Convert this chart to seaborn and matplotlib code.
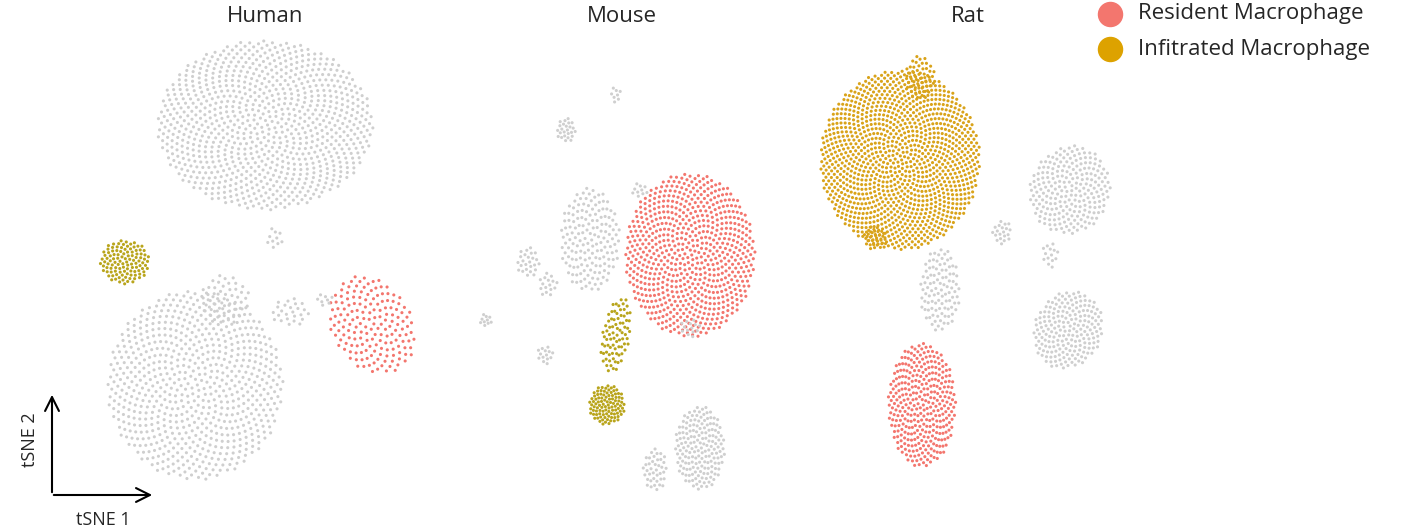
import numpy as np
import pandas as pd
import matplotlib
matplotlib.use("Agg")
import matplotlib.pyplot as plt
import seaborn as sns

sns.set_style("white")
plt.rcParams['font.family'] = ['Open Sans', 'DejaVu Sans']

RED = "#F3766E"
OLIVE = "#B9A51C"
GOLD = "#D9A31A"
GREY = "#CFCFCF"

panels = ["Human", "Mouse", "Rat"]
panel_box = {"Human": (60, 430, 30, 500), "Mouse": (470, 760, 30, 500), "Rat": (800, 1130, 30, 500)}
title_x = {"Human": 265, "Mouse": 622, "Rat": 968}

# cluster summaries: panel, centre x, centre y, radius x, radius y, angle, count, colour
cl_panel = ["Human"]*8 + ["Mouse"]*14 + ["Rat"]*9
cl_cx = [265, 195, 225, 125, 372, 290, 275, 325,
         690, 590, 528, 566, 616, 616, 607, 700, 655, 486, 545, 690, 640, 548,
         900, 1070, 1068, 922, 940, 1002, 1050, 920, 875]
cl_cy = [125, 385, 300, 262, 325, 312, 238, 300,
         255, 240, 262, 130, 95, 335, 405, 448, 470, 320, 355, 328, 190, 285,
         160, 190, 330, 405, 290, 232, 255, 78, 238]
cl_rx = [108, 88, 25, 25, 40, 20, 8, 10,
         65, 30, 12, 10, 6, 14, 18, 25, 12, 6, 8, 10, 8, 10,
         80, 40, 34, 34, 20, 10, 8, 15, 12]
cl_ry = [85, 95, 25, 22, 52, 14, 12, 6,
         82, 52, 15, 12, 8, 38, 20, 42, 22, 7, 10, 10, 8, 12,
         90, 45, 40, 62, 42, 12, 14, 22, 12]
cl_ang = [0, 0, 0, 0, -30, 0, 0, 0,
          0, 0, 0, 0, 0, 10, 0, 0, 0, 0, 0, 0, 0, 0,
          0, 20, 25, 0, 0, 0, 0, 0, 0]
cl_n = [900, 700, 50, 110, 170, 25, 10, 8,
        700, 160, 25, 25, 8, 80, 100, 170, 40, 10, 14, 14, 10, 16,
        1200, 230, 200, 330, 100, 20, 14, 50, 30]
cl_col = [GREY, GREY, GREY, OLIVE, RED, GREY, GREY, GREY,
          RED, GREY, GREY, GREY, GREY, OLIVE, OLIVE, GREY, GREY, GREY, GREY, GREY, GREY, GREY,
          GOLD, GREY, GREY, RED, GREY, GREY, GREY, GOLD, GOLD]

rows = []
ga = np.pi * (3 - np.sqrt(5))
for p, cx, cy, rx, ry, a, n, c in zip(cl_panel, cl_cx, cl_cy, cl_rx, cl_ry, cl_ang, cl_n, cl_col):
    i = np.arange(n)
    r = np.sqrt((i + 0.5) / n)
    th = i * ga
    u, v = r*np.cos(th)*rx, r*np.sin(th)*ry
    t = np.deg2rad(a)
    x = cx + u*np.cos(t) - v*np.sin(t)
    y = cy + u*np.sin(t) + v*np.cos(t)
    for xx, yy in zip(x, y):
        rows.append((p, xx, yy, c))
df = pd.DataFrame(rows, columns=["panel", "tSNE1", "tSNE2", "colour"])

W, H = 1416, 527
fig = plt.figure(figsize=(W/100, H/100), dpi=100)
for p in panels:
    x0, x1, yt, yb = panel_box[p]
    ax = fig.add_axes([x0/W, 1-yb/H, (x1-x0)/W, (yb-yt)/H])
    sub = df[df.panel == p]
    sns.scatterplot(data=sub, x="tSNE1", y="tSNE2", hue="colour",
                    palette={c: c for c in sub.colour.unique()},
                    s=5, linewidth=0, legend=False, ax=ax)
    ax.set_xlim(x0, x1); ax.set_ylim(yb, yt)
    ax.axis("off")

fa = fig.add_axes([0, 0, 1, 1]); fa.set_xlim(0, W); fa.set_ylim(H, 0); fa.axis("off")
for p in panels:
    fa.text(title_x[p], 16, p, fontsize=16, ha="center", va="center")
fa.annotate("", xy=(52, 392), xytext=(52, 495), arrowprops=dict(arrowstyle="->", lw=1.5, color="black", mutation_scale=25))
fa.annotate("", xy=(155, 495), xytext=(51, 495), arrowprops=dict(arrowstyle="->", lw=1.5, color="black", mutation_scale=25))
fa.text(30, 440, "tSNE 2", rotation=90, fontsize=13, ha="center", va="center")
fa.text(103, 520, "tSNE 1", fontsize=13, ha="center", va="center")

leg_labels = ["Resident Macrophage", "Infitrated Macrophage"]
leg_cols = [RED, "#DDA200"]
for k, (lab, c) in enumerate(zip(leg_labels, leg_cols)):
    y = 14 + k*35
    fa.scatter([1110], [y], s=300, color=c)
    fa.text(1138, y, lab, fontsize=16, va="center")

fig.savefig("out.png", dpi=100)
